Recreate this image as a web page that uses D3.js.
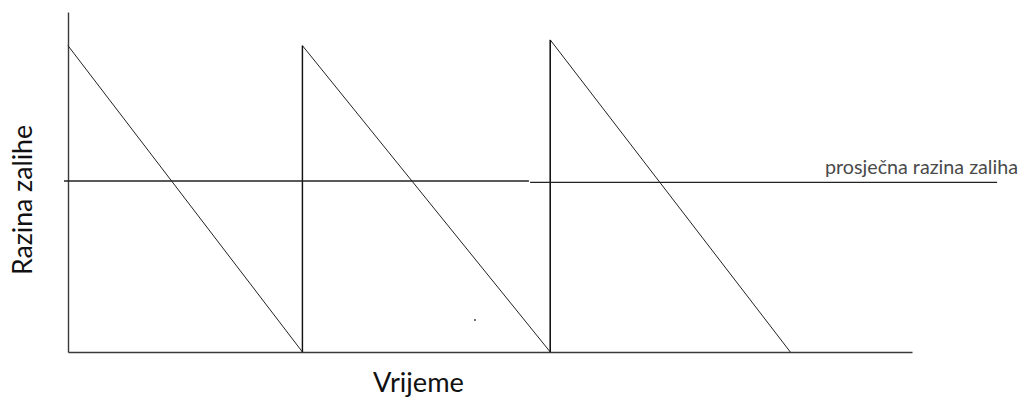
<!DOCTYPE html>
<html>
<head>
<meta charset="utf-8">
<script src="https://cdn.jsdelivr.net/npm/d3@7"></script>
<style>
  body { margin: 0; background: #fff; }
  text { font-family: Lato, 'Open Sans', sans-serif; }
</style>
</head>
<body>
<div id="chart"></div>
<script>
// sawtooth stock level (time in order cycles, level in % of axis height)
const stockTime = [0, 1.0, 1.0, 2.057, 2.057, 3.081]
const stockLevel = [90.1, 0, 90.1, 0, 91.8, 0]

// average stock line, drawn in two pieces as in the original sketch
const avgSegments = [
  {t0: -0.017, t1: 1.966, level: 50.3},
  {t0: 1.971, t1: 3.963, level: 49.9}
]

// stray dot in the original
const strayDot = [{t: 1.736, level: 9.4}]

const xLabel = 'Vrijeme'
const yLabel = 'Razina zalihe'
const avgLabel = 'prosječna razina zaliha'

const width = 1028
const height = 397
const margin = {top: 12, right: 116, bottom: 45, left: 68}

const svg = d3.select('#chart')
  .append('svg')
  .attr('width', width)
  .attr('height', height)

const xs = d3.scaleLinear()
  .domain([0, 3.6])
  .range([margin.left, width - margin.right])
const ys = d3.scaleLinear()
  .domain([0, 100])
  .range([height - margin.bottom, margin.top])

// axes: bare lines, no ticks
svg.append('g')
  .attr('transform', `translate(0,${ys(0)})`)
  .call(d3.axisBottom(xs).ticks(0).tickSizeOuter(0))
  .select('.domain')
  .attr('stroke', '#3a3a3a')
  .attr('stroke-width', 1.4)
svg.append('g')
  .attr('transform', `translate(${xs(0)},0)`)
  .call(d3.axisLeft(ys).ticks(0).tickSizeOuter(0))
  .select('.domain')
  .attr('stroke', '#3a3a3a')
  .attr('stroke-width', 1.4)

// stock level
const pts = stockTime.map((t, i) => [t, stockLevel[i]])
const line = d3.line()
  .x((d) => xs(d[0]))
  .y((d) => ys(d[1]))
svg.append('path')
  .attr('d', line(pts))
  .attr('fill', 'none')
  .attr('stroke', '#222')
  .attr('stroke-width', 1)

// vertical refill strokes are heavier in the original
pts.forEach((d, i) => {
  if (i > 0 && pts[i - 1][0] === d[0]) {
    svg.append('line')
      .attr('x1', xs(d[0])).attr('x2', xs(d[0]))
      .attr('y1', ys(pts[i - 1][1])).attr('y2', ys(d[1]))
      .attr('stroke', '#111')
      .attr('stroke-width', 1.4)
  }
})

// average line
svg.selectAll('.avg')
  .data(avgSegments)
  .enter()
  .append('line')
  .classed('avg', true)
  .attr('x1', (d) => xs(d.t0))
  .attr('x2', (d) => xs(d.t1))
  .attr('y1', (d) => ys(d.level))
  .attr('y2', (d) => ys(d.level))
  .attr('stroke', '#222')
  .attr('stroke-width', 1.4)

svg.selectAll('.dot')
  .data(strayDot)
  .enter()
  .append('circle')
  .attr('cx', (d) => xs(d.t))
  .attr('cy', (d) => ys(d.level))
  .attr('r', 1)
  .attr('fill', '#444')

// labels
svg.append('text')
  .attr('x', 825)
  .attr('y', 174)
  .attr('textLength', 193)
  .attr('lengthAdjust', 'spacingAndGlyphs')
  .style('font-size', '20px')
  .style('fill', '#4a4a4a')
  .text(avgLabel)

svg.append('text')
  .attr('x', 373)
  .attr('y', 392)
  .attr('textLength', 91)
  .attr('lengthAdjust', 'spacingAndGlyphs')
  .style('font-size', '26px')
  .style('fill', '#111')
  .text(xLabel)

svg.append('text')
  .attr('transform', 'translate(32,275) rotate(-90)')
  .attr('textLength', 150)
  .attr('lengthAdjust', 'spacingAndGlyphs')
  .style('font-size', '26px')
  .style('fill', '#111')
  .text(yLabel)
</script>
</body>
</html>
